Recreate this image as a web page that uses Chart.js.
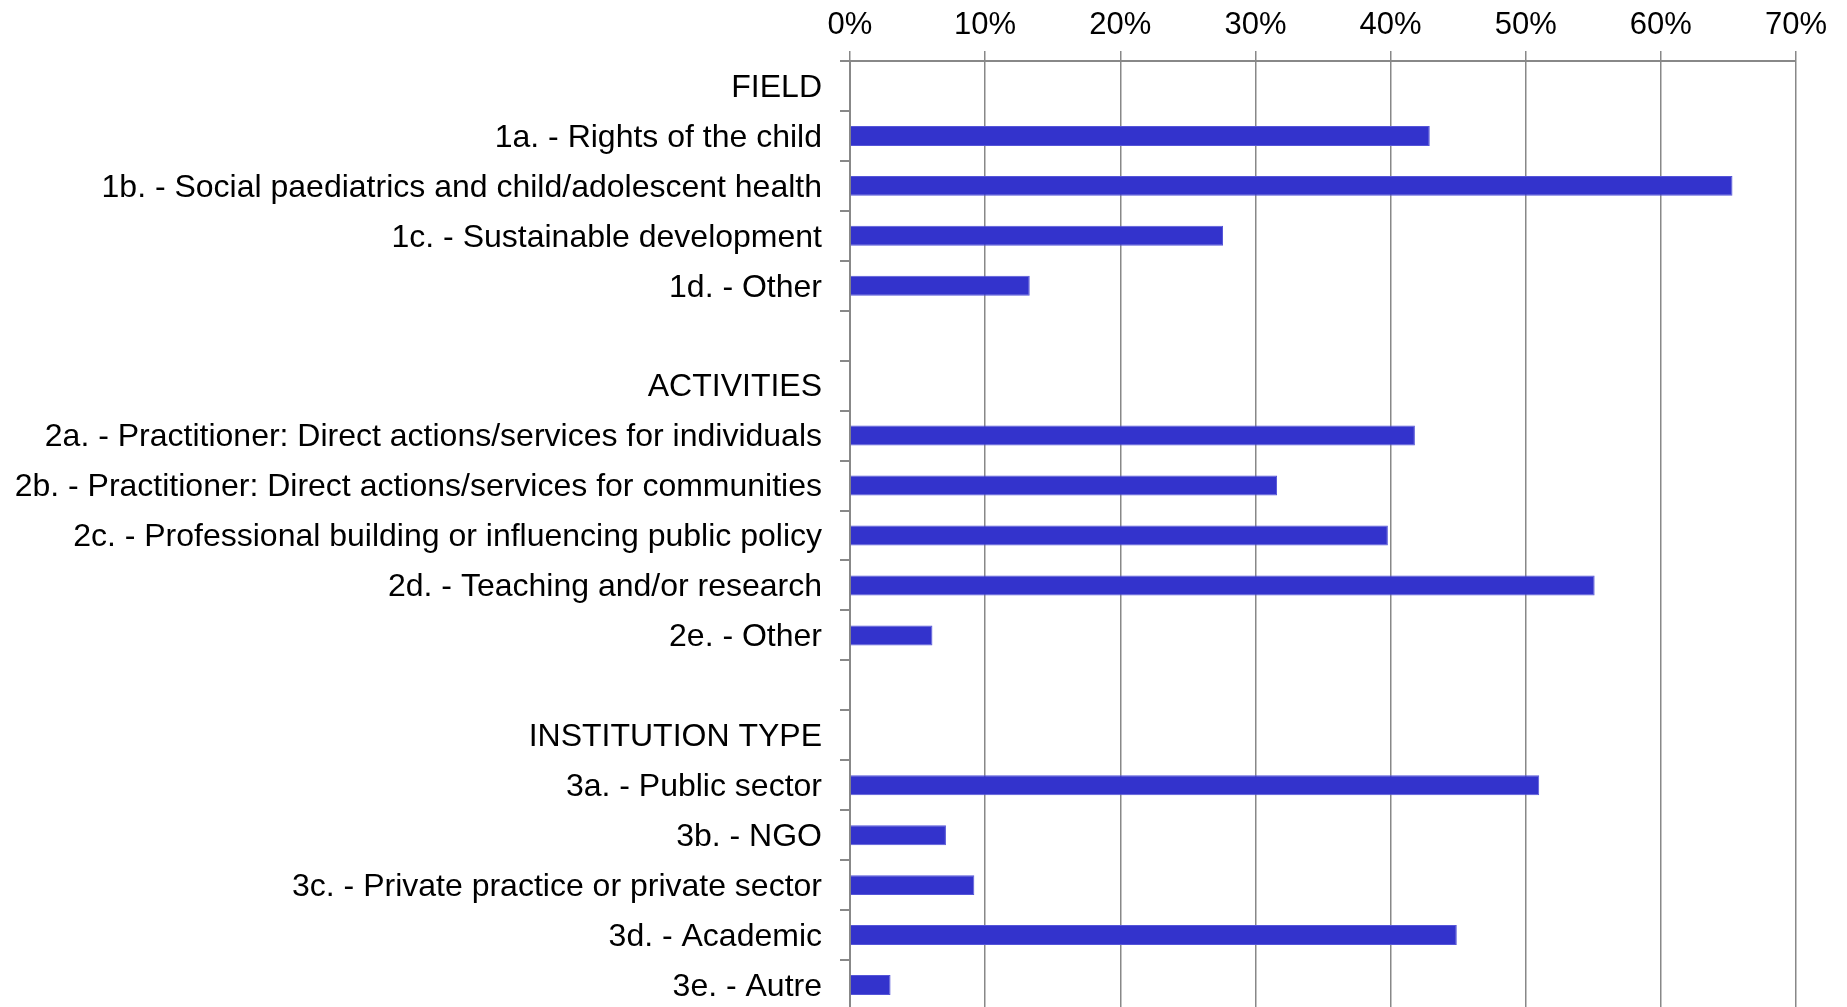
<!DOCTYPE html>
<html>
<head>
<meta charset="utf-8">
<script src="https://cdn.jsdelivr.net/npm/chart.js@4"></script>
<style>
html,body{margin:0;padding:0;background:#fff;overflow:hidden;}
#wrap{width:1847px;height:1007px;overflow:hidden;}
</style>
</head>
<body>
<div id="wrap"><canvas id="c" width="1847" height="1010"></canvas></div>
<script>
const categories = [
  "FIELD",
  "1a. - Rights of the child",
  "1b. - Social paediatrics and child/adolescent health",
  "1c. - Sustainable development",
  "1d. - Other",
  "",
  "ACTIVITIES",
  "2a. - Practitioner: Direct actions/services for individuals",
  "2b. - Practitioner: Direct actions/services for communities",
  "2c. - Professional building or influencing public policy",
  "2d. - Teaching and/or research",
  "2e. - Other",
  "",
  "INSTITUTION TYPE",
  "3a. - Public sector",
  "3b. - NGO",
  "3c. - Private practice or private sector",
  "3d. - Academic",
  "3e. - Autre"
];
const percentValues = [
  null, 42.9, 65.3, 27.6, 13.3, null,
  null, 41.8, 31.6, 39.8, 55.1, 6.1, null,
  null, 51.0, 7.1, 9.2, 44.9, 3.0
];
const xTickValues = [0, 10, 20, 30, 40, 50, 60, 70];
const xTickLabels = ["0%", "10%", "20%", "30%", "40%", "50%", "60%", "70%"];

const FONT = "'Liberation Sans', Arial, sans-serif";
const GRID = "#888888";

new Chart(document.getElementById('c'), {
  type: 'bar',
  data: {
    labels: categories,
    datasets: [{
      data: percentValues,
      backgroundColor: '#3333CC',
      borderColor: '#5555d8',
      borderWidth: 1,
      barPercentage: 0.4,
      categoryPercentage: 1.0
    }]
  },
  options: {
    indexAxis: 'y',
    responsive: false,
    animation: false,
    devicePixelRatio: 1,
    layout: { padding: { left: 0, right: 51, top: 0, bottom: 0 } },
    plugins: { legend: { display: false }, tooltip: { enabled: false } },
    scales: {
      x: {
        position: 'top',
        min: 0, max: 70,
        afterBuildTicks: (s) => { s.ticks = xTickValues.map(v => ({ value: v })); },
        afterFit: (s) => { s.height = 61; s.paddingLeft = 0; s.paddingRight = 0; },
        ticks: {
          color: '#000',
          font: { family: FONT, size: 31 },
          padding: 7,
          callback: (v) => xTickLabels[xTickValues.indexOf(v)]
        },
        grid: { color: GRID, lineWidth: 1.5, tickLength: 10, drawTicks: true },
        border: { color: GRID, width: 2 }
      },
      y: {
        type: 'category',
        offset: true,
        afterFit: (s) => { s.width = 850; s.paddingTop = 0; s.paddingBottom = 0; },
        ticks: {
          autoSkip: false,
          color: '#000',
          font: { family: FONT, size: 32 },
          padding: 18,
          labelOffset: 2
        },
        grid: { offset: true, drawOnChartArea: false, color: GRID, lineWidth: 2, tickLength: 10 },
        border: { color: GRID, width: 2 }
      }
    }
  }
});
</script>
</body>
</html>
